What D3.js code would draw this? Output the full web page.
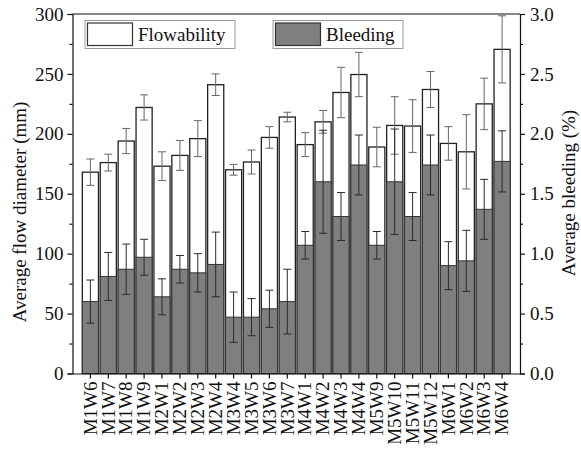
<!DOCTYPE html>
<html lang="en">
<head>
  <meta charset="UTF-8">
  <title>Flowability and Bleeding</title>
  <script src="https://d3js.org/d3.v7.min.js"></script>
  <style>
    body { margin: 0; background: #fff; }
    svg text { font-family: "Liberation Serif", "Times New Roman", serif; fill: #111; }
    .tick text { font-size: 19px; }
    .axis-label { font-size: 19px; }
    .legend text { font-size: 19px; }
  </style>
</head>
<body>
  <svg width="581" height="450"></svg>

  <script>
    const mixes = ["M1W6","M1W7","M1W8","M1W9","M2W1","M2W2","M2W3","M2W4",
                   "M3W4","M3W5","M3W6","M3W7","M4W1","M4W2","M4W3","M4W4",
                   "M5W9","M5W10","M5W11","M5W12","M6W1","M6W2","M6W3","M6W4"];
    const flow    = [168,176,194,222,173,182,196,241,170,176.5,197,214,191,210,234.5,249.5,189,207,206.5,237,192,185,225,270.5];
    const flowErr = [11,7,10.5,10.5,12,12.5,15,9,4.5,10,9,4,10,9.5,21,18.5,16.5,24,22,15,14,31,21.5,28];
    const bleed    = [0.60,0.81,0.87,0.97,0.64,0.87,0.84,0.91,0.47,0.47,0.54,0.60,1.07,1.60,1.31,1.74,1.07,1.60,1.31,1.74,0.90,0.94,1.37,1.77];
    const bleedErr = [0.18,0.20,0.21,0.15,0.15,0.115,0.16,0.27,0.21,0.155,0.155,0.27,0.115,0.43,0.20,0.25,0.115,0.44,0.20,0.25,0.20,0.255,0.25,0.255];
    const flowTicks  = [0,50,100,150,200,250,300];
    const bleedTicks = [0,0.5,1.0,1.5,2.0,2.5,3.0];

    const data = mixes.map((m, i) => ({
      mix: m, flow: flow[i], fe: flowErr[i], bleed: bleed[i], be: bleedErr[i]
    }));

    const svg = d3.select("svg"),
          plotL = 72.5, plotR = 520, plotT = 14, plotB = 373.5;

    const x = d3.scaleBand().domain(mixes).range([plotL, plotR])
                .paddingInner(0.1).paddingOuter(0.55);
    const y = d3.scaleLinear().domain([0, 300]).range([plotB, plotT]);
    const yR = d3.scaleLinear().domain([0, 3]).range([plotB, plotT]);

    // Flowability bars
    svg.append("g").selectAll("rect").data(data).join("rect")
      .attr("x", d => x(d.mix))
      .attr("y", d => y(d.flow))
      .attr("width", x.bandwidth())
      .attr("height", d => plotB - y(d.flow))
      .attr("fill", "#fff")
      .attr("stroke", "#222")
      .attr("stroke-width", 1.3);

    // Bleeding bars
    svg.append("g").selectAll("rect").data(data).join("rect")
      .attr("x", d => x(d.mix))
      .attr("y", d => yR(d.bleed))
      .attr("width", x.bandwidth())
      .attr("height", d => plotB - yR(d.bleed))
      .attr("fill", "#7f7f7f")
      .attr("stroke", "#333")
      .attr("stroke-width", 1);

    // Error bars
    function errorBars(val, err, scale, color) {
      const g = svg.append("g").attr("stroke", color).attr("stroke-width", 1);
      data.forEach(d => {
        const cx = x(d.mix) + x.bandwidth() / 2;
        const y1 = scale(d[val] + d[err]), y2 = scale(d[val] - d[err]);
        g.append("line").attr("x1", cx).attr("x2", cx).attr("y1", y1).attr("y2", y2);
        g.append("line").attr("x1", cx - 4).attr("x2", cx + 4).attr("y1", y1).attr("y2", y1);
        g.append("line").attr("x1", cx - 4).attr("x2", cx + 4).attr("y1", y2).attr("y2", y2);
      });
    }
    errorBars("flow", "fe", y, "#666");
    errorBars("bleed", "be", yR, "#2a2a2a");

    // Left axis
    const gl = svg.append("g").attr("transform", `translate(${plotL},0)`)
      .call(d3.axisLeft(y).tickValues(flowTicks).tickSize(5).tickPadding(4));
    gl.append("g").call(d3.axisLeft(y).tickValues(d3.range(25, 300, 50)).tickSize(3).tickFormat(""))
      .select(".domain").remove();

    // Right axis
    const gr = svg.append("g").attr("transform", `translate(${plotR},0)`)
      .call(d3.axisRight(yR).tickValues(bleedTicks).tickSize(5).tickPadding(5).tickFormat(d3.format(".1f")));
    gr.append("g").call(d3.axisRight(yR).tickValues(d3.range(0.25, 3, 0.5)).tickSize(3).tickFormat(""))
      .select(".domain").remove();

    // Bottom axis
    const gb = svg.append("g").attr("transform", `translate(0,${plotB})`)
      .call(d3.axisBottom(x).tickSize(5).tickSizeOuter(0));
    gb.selectAll(".tick text")
      .attr("transform", "rotate(-90)")
      .attr("text-anchor", "end")
      .attr("x", -8)
      .attr("y", 0)
      .attr("dy", "0.33em");

    svg.selectAll(".domain, .tick line").attr("stroke", "#111").attr("stroke-width", 1.2);

    // Top frame
    svg.append("line").attr("x1", plotL).attr("x2", plotR).attr("y1", plotT).attr("y2", plotT)
      .attr("stroke", "#111").attr("stroke-width", 1.2);

    // Axis titles
    svg.append("text").attr("class", "axis-label")
      .attr("transform", "translate(26,212) rotate(-90)")
      .attr("text-anchor", "middle")
      .text("Average flow diameter (mm)");
    svg.append("text").attr("class", "axis-label")
      .attr("transform", "translate(575,193) rotate(-90)")
      .attr("text-anchor", "middle")
      .text("Average bleeding (%)");

    // Legend
    const legend = svg.append("g").attr("class", "legend");
    const items = [
      {label: "Flowability", fill: "#fff", bx: 85, bw: 150},
      {label: "Bleeding", fill: "#7f7f7f", bx: 273, bw: 130}
    ];
    items.forEach(it => {
      legend.append("rect").attr("x", it.bx).attr("y", 20.5).attr("width", it.bw).attr("height", 28)
        .attr("fill", "#fff").attr("stroke", "#999").attr("stroke-width", 1);
      legend.append("rect").attr("x", it.bx + 2.5).attr("y", 23).attr("width", 45).attr("height", 22.5)
        .attr("fill", it.fill).attr("stroke", "#333").attr("stroke-width", 1.2);
      legend.append("text").attr("x", it.bx + 53).attr("y", 41).text(it.label);
    });
  </script>
</body>
</html>
